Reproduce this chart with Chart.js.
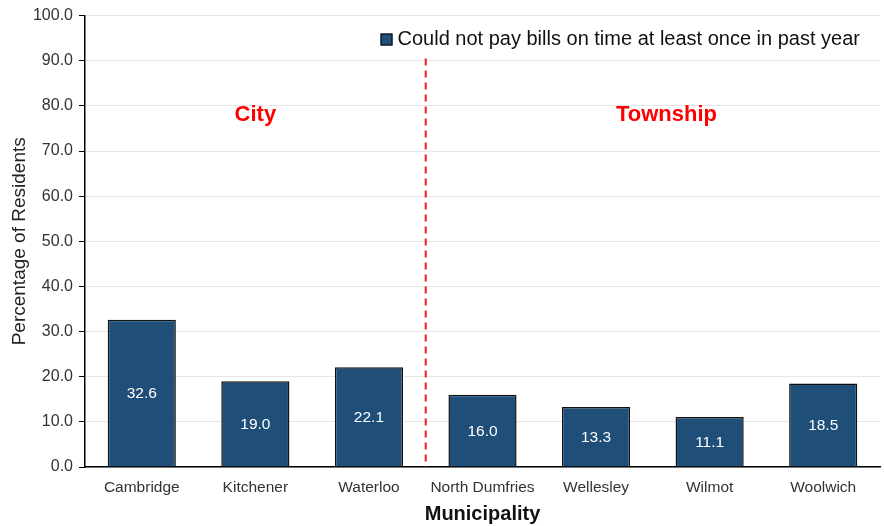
<!DOCTYPE html>
<html><head><meta charset="utf-8">
<script src="https://cdn.jsdelivr.net/npm/chart.js@4/dist/chart.umd.min.js"></script>
<style>html,body{margin:0;padding:0;background:#fff}#wrap{width:884px;height:526px}</style>
</head><body><div id="wrap"><canvas id="c"></canvas></div>
<script>
const categories = ["Cambridge","Kitchener","Waterloo","North Dumfries","Wellesley","Wilmot","Woolwich"];
const values = [32.6, 19.0, 22.1, 16.0, 13.3, 11.1, 18.5];
const seriesName = "Could not pay bills on time at least once in past year";
const groupLabels = ["City","Township"];
const yTicks = [0,10,20,30,40,50,60,70,80,90,100];

const FONT = "'Liberation Sans', Arial, sans-serif";

const overlay = {
  id:'overlay',
  afterDatasetsDraw(chart){
    const ctx = chart.ctx, x = chart.scales.x, y = chart.scales.y;
    const meta = chart.getDatasetMeta(0);
    ctx.save();
    ctx.fillStyle = '#fff';
    ctx.font = '15.5px ' + FONT;
    ctx.textAlign = 'center'; ctx.textBaseline = 'middle';
    meta.data.forEach((bar,i)=>{
      ctx.fillText(values[i].toFixed(1), bar.x, (bar.y + bar.base)/2 + 1);
    });
    // divider
    const dx = x.getPixelForValue(2.5);
    ctx.strokeStyle = '#e8201c'; ctx.lineWidth = 2; ctx.setLineDash([7,5]);
    ctx.beginPath(); ctx.moveTo(dx, y.getPixelForValue(90.5)); ctx.lineTo(dx, y.bottom); ctx.stroke();
    ctx.setLineDash([]);
    ctx.fillStyle = '#ff0000';
    ctx.font = 'bold 22px ' + FONT;
    ctx.fillText(groupLabels[0], x.getPixelForValue(1), y.getPixelForValue(78));
    ctx.fillText(groupLabels[1], x.getPixelForValue(4.62), y.getPixelForValue(78));
    // legend
    ctx.font = '20px ' + FONT;
    ctx.textAlign = 'right';
    const lx = x.right - 20, ly = y.getPixelForValue(94.7);
    ctx.fillStyle = '#111';
    ctx.fillText(seriesName, lx, ly);
    const w = ctx.measureText(seriesName).width;
    const bx = lx - w - 17;
    ctx.fillStyle = '#1f4e79'; ctx.strokeStyle = '#000'; ctx.lineWidth = 1;
    ctx.fillRect(bx, ly-6, 12, 12); ctx.strokeRect(bx+0.5, ly-5.5, 11, 11);
    ctx.restore();
  }
};

new Chart(document.getElementById('c'), {
  type:'bar',
  data:{ labels: categories, datasets:[{ label: seriesName, data: values,
    backgroundColor:'#1f4e79', borderColor:'#111', borderWidth:1.5,
    categoryPercentage:0.6, barPercentage:1.0 }]},
  options:{
    responsive:true, maintainAspectRatio:false, animation:false,
    layout:{ padding:{ top:10, right:4, left:0, bottom:0 } },
    plugins:{ legend:{ display:false }, tooltip:{ enabled:false } },
    scales:{
      x:{
        afterFit(s){ s.height = 59; },
        grid:{ display:false, drawTicks:false },
        border:{ color:'#000', width:1.5 },
        ticks:{ color:'#333', font:{ family:FONT, size:15.5 }, padding:11, maxRotation:0 },
        title:{ display:true, text:'Municipality', color:'#111', font:{ family:FONT, size:20, weight:'bold' }, padding:0 }
      },
      y:{
        min:0, max:100,
        afterFit(s){ s.width = 85; },
        afterBuildTicks(s){ s.ticks = yTicks.map(v=>({value:v})); },
        grid:{ color:'#e6e6e6', lineWidth:1, tickColor:'#000', tickLength:6, drawTicks:true },
        border:{ color:'#000', width:1.5 },
        ticks:{ color:'#333', font:{ family:FONT, size:16 }, padding:6, callback:v=>Number(v).toFixed(1) },
        title:{ display:true, text:'Percentage of Residents', color:'#222', font:{ family:FONT, size:19 }, padding:{top:8,bottom:8} }
      }
    }
  },
  plugins:[overlay]
});
</script></body></html>
